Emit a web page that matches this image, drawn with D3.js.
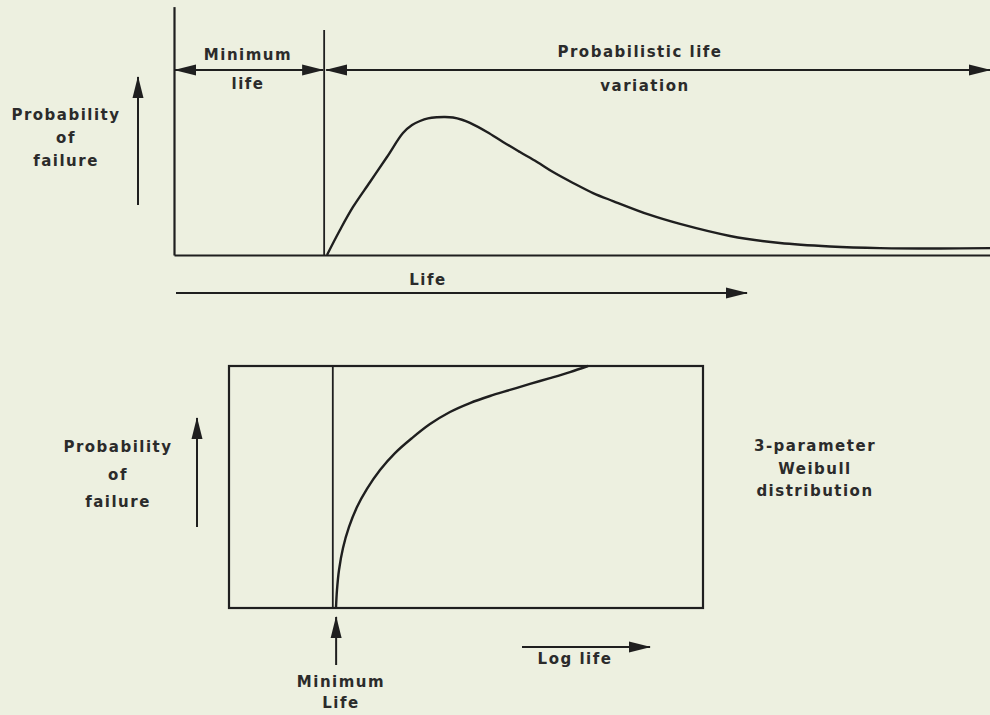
<!DOCTYPE html>
<html>
<head>
<meta charset="utf-8">
<script src="https://cdn.jsdelivr.net/npm/d3@7"></script>
<style>
  html, body { margin: 0; padding: 0; background: #edf0e0; }
  svg { display: block; }
  text { font-family: "DejaVu Sans", sans-serif; font-weight: bold; font-size: 15px; fill: #2b2b2b; letter-spacing: 1.5px; }
</style>
</head>
<body>
<script>
// ---- Data ----
// Top panel: probability density of failure vs life (0..100 life units)
const topLife = [18.75, 20.34, 21.94, 24.02, 26.10, 28.06, 29.17, 30.15, 31.13, 32.23, 33.21, 34.19, 35.29, 36.27, 38.36, 40.32, 42.40, 44.49, 46.45, 48.90, 51.35, 53.80, 58.33, 62.01, 68.14, 74.26, 80.39, 86.52, 93.87, 100];
const topProb = [0, 0.181, 0.348, 0.529, 0.710, 0.884, 0.942, 0.971, 0.990, 0.998, 1.0, 0.996, 0.980, 0.957, 0.891, 0.819, 0.746, 0.674, 0.601, 0.522, 0.449, 0.391, 0.290, 0.225, 0.138, 0.087, 0.062, 0.050, 0.047, 0.050];
const topMinLife = 18.4;

// Bottom panel: cumulative probability of failure vs log life (0..100 units)
const botLogLife = [22.57, 22.78, 23.21, 24.05, 25.32, 27.00, 29.11, 31.86, 35.02, 38.61, 42.41, 46.62, 50.84, 55.06, 59.28, 63.50, 67.72, 71.94, 75.74];
const botProb = [0, 0.074, 0.157, 0.248, 0.335, 0.417, 0.492, 0.570, 0.640, 0.702, 0.760, 0.810, 0.847, 0.876, 0.901, 0.926, 0.950, 0.975, 1.0];
const botMinLifeLine = 21.9;
const botMinLifeMark = 22.6;

// Text labels
const probLabel = ["Probability", "of", "failure"];
const minLifeLabel = ["Minimum", "life"];
const probLifeLabel = ["Probabilistic life", "variation"];
const lifeLabel = "Life";
const weibullLabel = ["3-parameter", "Weibull", "distribution"];
const logLifeLabel = "Log life";
const minLifeBottomLabel = ["Minimum", "Life"];

// ---- Drawing ----
const W = 990, H = 715;
const ink = "#1f1f1f";
const svg = d3.select("body").append("svg").attr("width", W).attr("height", H);
svg.append("rect").attr("width", W).attr("height", H).attr("fill", "#edf0e0");

const defs = svg.append("defs");
defs.append("marker")
  .attr("id", "arr").attr("markerUnits", "userSpaceOnUse")
  .attr("viewBox", "0 -6 22 12").attr("refX", 21).attr("refY", 0)
  .attr("markerWidth", 22).attr("markerHeight", 12)
  .attr("orient", "auto-start-reverse")
  .append("path").attr("d", "M0,-5.5L22,0L0,5.5Z").attr("fill", ink);

function arrowLine(x1, y1, x2, y2, both) {
  const l = svg.append("line")
    .attr("x1", x1).attr("y1", y1).attr("x2", x2).attr("y2", y2)
    .attr("stroke", ink).attr("stroke-width", 2)
    .attr("marker-end", "url(#arr)");
  if (both) l.attr("marker-start", "url(#arr)");
  return l;
}
function textBlock(lines, cx, baselines) {
  lines.forEach((t, i) => {
    svg.append("text").attr("x", cx).attr("y", baselines[i])
      .attr("text-anchor", "middle").text(t);
  });
}

// ===== TOP PANEL =====
const xT = d3.scaleLinear().domain([0, 100]).range([174, 990]);
const yT = d3.scaleLinear().domain([0, 1.8]).range([255, 6.6]);

const axT = svg.append("g");
axT.append("g").attr("transform", `translate(0,${yT(0)})`)
  .call(d3.axisBottom(xT).tickValues([]).tickSizeOuter(0));
axT.append("g").attr("transform", `translate(${xT(0)},0)`)
  .call(d3.axisLeft(yT).tickValues([]).tickSizeOuter(0));
axT.selectAll(".domain").attr("stroke", ink).attr("stroke-width", 2.2);

// minimum life vertical line
svg.append("line")
  .attr("x1", xT(topMinLife)).attr("x2", xT(topMinLife))
  .attr("y1", 30).attr("y2", yT(0))
  .attr("stroke", ink).attr("stroke-width", 1.8);

// density curve
const lineT = d3.line().x((d, i) => xT(topLife[i])).y(d => yT(d)).curve(d3.curveCatmullRom.alpha(0.5));
svg.append("path").datum(topProb).attr("d", lineT)
  .attr("fill", "none").attr("stroke", ink).attr("stroke-width", 2.4);

// dimension arrows
arrowLine(xT(0) + 1, 70, xT(topMinLife) - 1, 70, true);
arrowLine(xT(topMinLife) + 2, 70, W, 70, true);
textBlock(minLifeLabel, 248, [60, 89]);
textBlock(probLifeLabel.slice(0, 1), 640, [57]);
textBlock(probLifeLabel.slice(1), 645, [91]);

// probability arrow + label
arrowLine(138, 205, 138, 77, false);
textBlock(probLabel, 66, [120, 143, 166]);

// life arrow
arrowLine(176, 293, 747, 293, false);
svg.append("text").attr("x", 428).attr("y", 285).attr("text-anchor", "middle").text(lifeLabel);

// ===== BOTTOM PANEL =====
const xB = d3.scaleLinear().domain([0, 100]).range([229, 703]);
const yB = d3.scaleLinear().domain([0, 1]).range([608, 366]);

svg.append("rect")
  .attr("x", xB(0)).attr("y", yB(1))
  .attr("width", xB(100) - xB(0)).attr("height", yB(0) - yB(1))
  .attr("fill", "none").attr("stroke", ink).attr("stroke-width", 2.2);

svg.append("line")
  .attr("x1", xB(botMinLifeLine)).attr("x2", xB(botMinLifeLine))
  .attr("y1", yB(1)).attr("y2", yB(0))
  .attr("stroke", ink).attr("stroke-width", 1.8);

const lineB = d3.line().x((d, i) => xB(botLogLife[i])).y(d => yB(d)).curve(d3.curveCatmullRom.alpha(0.5));
svg.append("path").datum(botProb).attr("d", lineB)
  .attr("fill", "none").attr("stroke", ink).attr("stroke-width", 2.4);

// minimum life arrow
arrowLine(xB(botMinLifeMark), 665, xB(botMinLifeMark), 617, false);
textBlock(minLifeBottomLabel, 341, [687, 708]);

// probability arrow + label
arrowLine(197, 527, 197, 418, false);
textBlock(probLabel, 118, [452, 480, 507]);

// log life arrow
arrowLine(522, 647, 650, 647, false);
svg.append("text").attr("x", 575).attr("y", 664).attr("text-anchor", "middle").text(logLifeLabel);

// Weibull label
textBlock(weibullLabel, 815, [451, 474, 496]);
</script>
</body>
</html>
